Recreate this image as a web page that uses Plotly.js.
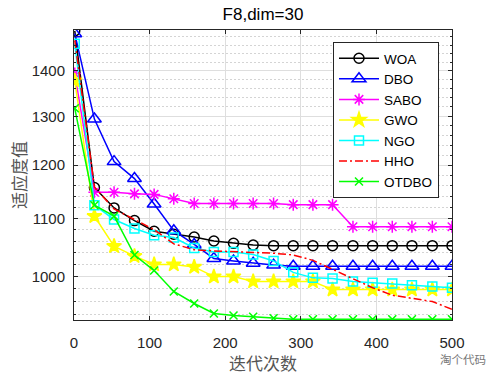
<!DOCTYPE html>
<html>
<head>
<meta charset="utf-8">
<script src="https://cdn.plot.ly/plotly-3.0.1.min.js"></script>
<style>html,body{margin:0;padding:0;background:#fff;}#chart{width:500px;height:375px;}</style>
</head>
<body>
<div id="chart"></div>
<script>
// iteration positions of the plotted points
const iters = [1,27,53,80,106,132,159,185,211,237,264,290,316,342,369,395,421,447,474,500];
// series values (fitness)
const WOA   = [1495,1157,1119,1096,1077,1072,1067,1060,1056,1053,1052,1052,1052,1052,1052,1052,1052,1052,1052,1052];
const DBO   = [1488,1294,1207,1174,1126,1078,1054,1030,1026,1022,1019,1017,1017,1017,1017,1017,1017,1017,1017,1017];
const SABO  = [1394,1148,1148,1145,1144,1136,1127,1127,1127,1127,1127,1125,1125,1125,1085,1085,1085,1085,1085,1085];
const GWO   = [1378,1104,1051,1034,1020,1020,1016,1000,1000,992,992,992,992,979,979,979,979,979,979,979];
const NGO   = [1464,1124,1098,1082,1070,1066,1048,1041,1041,1037,1026,1007,998,997,992,990,989,986,984,982];
const HHO   = [1472,1158,1117,1098,1080,1055,1045,1043,1042,1041,1039,1036,1027,1012,996,982,970,965,960,948];
const OTDBO = [1317,1124,1104,1036,1010,976,957,941.5,938.5,936.4,934.3,932.5,932.5,932.5,932.5,932.5,932.5,932.5,932.5,932.5];
const names = ['WOA','DBO','SABO','GWO','NGO','HHO','OTDBO'];
const xTicks = [0,100,200,300,400,500];
const yTicks = [1000,1100,1200,1300,1400];
const yMinor = [940,960,980,1020,1040,1060,1080,1120,1140,1160,1180,1220,1240,1260,1280,1320,1340,1360,1380,1420,1440,1460,1480];

const series = [WOA,DBO,SABO,GWO,NGO,HHO,OTDBO];
const styles = [
  {color:'#000000', symbol:'circle-open', size:10, dash:'solid'},
  {color:'#0000ff', symbol:'triangle-up-open', size:12, dash:'solid'},
  {color:'#ff00ff', symbol:'asterisk-open', size:10, dash:'solid'},
  {color:'#ffff00', symbol:'star', size:11, dash:'solid'},
  {color:'#00ffff', symbol:'square-open', size:9, dash:'solid'},
  {color:'#ff0000', symbol:null, size:0, dash:'8px,3px,2px,3px'},
  {color:'#00ff00', symbol:'x-thin-open', size:8, dash:'solid'}
];

const traces = series.map((ys,i)=>{
  const s = styles[i];
  const t = {
    x: iters, y: ys, name: names[i], type:'scatter',
    mode: s.symbol ? 'lines+markers' : 'lines',
    line: {color:s.color, width:1.5, dash:s.dash}
  };
  if (s.symbol) t.marker = {symbol:s.symbol, size:s.size, color:s.color, line:{color:s.color, width:1.5}};
  return t;
});

const font = 'Liberation Sans, Arial, sans-serif';
const cjk = 'Noto Sans CJK SC, sans-serif';
const layout = {
  width:500, height:375,
  margin:{l:74, r:48, t:30, b:55},
  paper_bgcolor:'#fff', plot_bgcolor:'#fff',
  showlegend:true,
  title:{text:'F8,dim=30', font:{family:font, size:17, color:'#000'}, x:0.526, xanchor:'center', y:0.963, yanchor:'middle'},
  xaxis:{
    range:[0,500], tickvals:xTicks, ticktext:xTicks.map(String),
    showline:true, mirror:'ticks', linecolor:'#262626', linewidth:1,
    ticks:'inside', ticklen:4, tickcolor:'#262626', ticklabelstandoff:9,
    showgrid:true, gridcolor:'#dedede', gridwidth:1, zeroline:false,
    tickfont:{family:font, size:15, color:'#262626'}
  },
  yaxis:{
    type:'log', range:[Math.log10(931.5), Math.log10(1497)],
    tickvals:yTicks, ticktext:yTicks.map(String),
    showline:true, mirror:'ticks', linecolor:'#262626', linewidth:1,
    ticks:'inside', ticklen:4, tickcolor:'#262626', ticklabelstandoff:5,
    showgrid:true, gridcolor:'#dedede', gridwidth:1, zeroline:false,
    tickfont:{family:font, size:15, color:'#262626'},
    minor:{tickvals:yMinor, ticks:'inside', ticklen:2, tickcolor:'#262626', showgrid:true, gridcolor:'#d4d4d4', griddash:'2px,2px', gridwidth:1}
  },
  legend:{
    x:0.9656, y:0.9586, xanchor:'right', yanchor:'top',
    bgcolor:'#fff', bordercolor:'#262626', borderwidth:1,
    font:{family:font, size:13.5, color:'#000'},
    tracegroupgap:0, itemwidth:40
  },
  annotations:[
    {text:'迭代次数', xref:'paper', yref:'paper', x:0.5, y:-0.145, xanchor:'center', yanchor:'middle', showarrow:false, font:{family:cjk, size:17, color:'#555'}},
    {text:'适应度值', xref:'paper', yref:'paper', x:-0.148, y:0.5, xanchor:'center', yanchor:'middle', textangle:-90, showarrow:false, font:{family:cjk, size:17, color:'#555'}},
    {text:'淘个代码', xref:'paper', yref:'paper', x:1.03, y:-0.135, xanchor:'center', yanchor:'middle', showarrow:false, font:{family:cjk, size:11.5, color:'#777'}}
  ]
};

Plotly.newPlot('chart', traces, layout, {displayModeBar:false, staticPlot:true});
</script>
</body>
</html>
